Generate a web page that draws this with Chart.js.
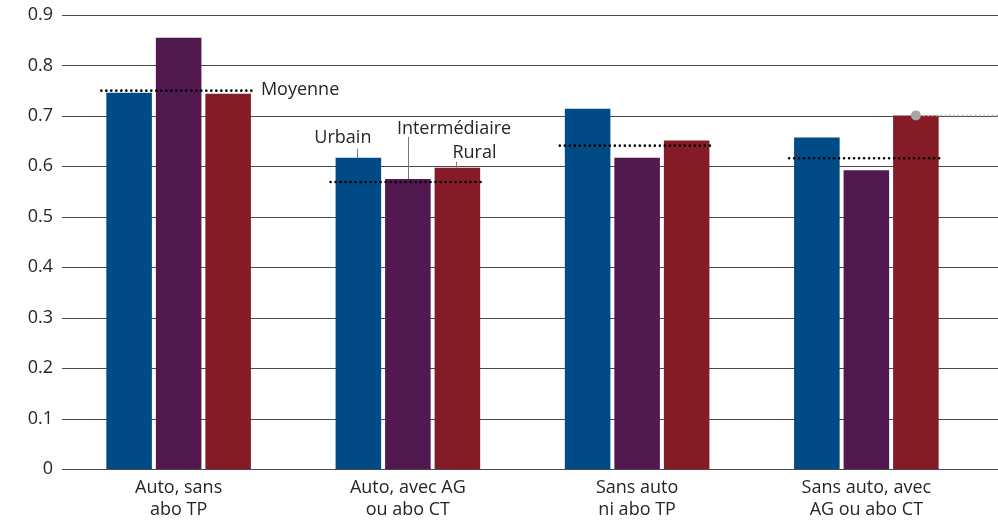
<!DOCTYPE html>
<html lang="fr">
<head>
<meta charset="utf-8">
<title>Moyenne par type de commune</title>
<script src="https://cdn.jsdelivr.net/npm/chart.js@4/dist/chart.umd.min.js"></script>
<style>
  html, body { margin: 0; padding: 0; background: #fff; }
  #wrap { width: 998px; height: 523px; }
</style>
</head>
<body>
<div id="wrap"><canvas id="chart-communes"></canvas></div>
<script>
// Données
const categories = [
    ['Auto, sans', 'abo TP'],
    ['Auto, avec AG', 'ou abo CT'],
    ['Sans auto', 'ni abo TP'],
    ['Sans auto, avec', 'AG ou abo CT']
];
const urbain        = [0.746, 0.617, 0.714, 0.657];
const intermediaire = [0.855, 0.575, 0.617, 0.592];
const rural         = [0.744, 0.597, 0.651, 0.701];
const moyenne       = [0.750, 0.569, 0.641, 0.616];
const yTicks        = [0, 0.1, 0.2, 0.3, 0.4, 0.5, 0.6, 0.7, 0.8, 0.9];
const yTickLabels   = ['0', '0.1', '0.2', '0.3', '0.4', '0.5', '0.6', '0.7', '0.8', '0.9'];

const FONT = '"Open Sans", "Noto Sans", sans-serif';
const TEXT = '#262626';

// lignes horizontales, moyennes, étiquettes des séries et repère gris
const extras = {
    id: 'extras',
    beforeDatasetsDraw(chart) {
        const { ctx, scales: { y } } = chart;
        ctx.save();
        ctx.strokeStyle = '#4a4a4a';
        ctx.lineWidth = 1;
        yTicks.forEach(v => {
            const py = Math.round(y.getPixelForValue(v)) + 0.5;
            ctx.beginPath();
            ctx.moveTo(chart.chartArea.left - 2, py);
            ctx.lineTo(chart.width, py);
            ctx.stroke();
        });
        ctx.restore();
    },
    afterDatasetsDraw(chart) {
        const { ctx, scales: { y } } = chart;
        const m0 = chart.getDatasetMeta(0).data;
        const m1 = chart.getDatasetMeta(1).data;
        const m2 = chart.getDatasetMeta(2).data;
        ctx.save();

        // moyennes en pointillés
        ctx.strokeStyle = '#000';
        ctx.lineWidth = 2.6;
        ctx.lineCap = 'round';
        ctx.setLineDash([0, 5]);
        let finMoyenne = 0;
        moyenne.forEach((v, i) => {
            const x1 = m0[i].x - m0[i].width / 2 - 5;
            const x2 = m2[i].x + m2[i].width / 2 + 5;
            const py = y.getPixelForValue(v);
            ctx.beginPath();
            ctx.moveTo(x1, py);
            ctx.lineTo(x2, py);
            ctx.stroke();
            if (i === 0) finMoyenne = x2;
        });

        // repère gris sur la dernière barre rurale
        const b = m2[3];
        ctx.strokeStyle = '#bdbdbd';
        ctx.lineWidth = 2;
        ctx.setLineDash([0, 4.3]);
        ctx.beginPath();
        ctx.moveTo(b.x + 8, b.y);
        ctx.lineTo(chart.width, b.y);
        ctx.stroke();
        ctx.setLineDash([]);
        ctx.fillStyle = '#a6a6a6';
        ctx.beginPath();
        ctx.arc(b.x, b.y, 5, 0, Math.PI * 2);
        ctx.fill();

        // traits de rappel
        ctx.strokeStyle = '#777';
        ctx.lineWidth = 1;
        ctx.lineCap = 'butt';
        const trait = (x, yA, yB) => {
            ctx.beginPath();
            ctx.moveTo(Math.round(x) + 0.5, yA);
            ctx.lineTo(Math.round(x) + 0.5, yB);
            ctx.stroke();
        };
        trait(m0[1].x - 1, m0[1].y - 9, m0[1].y);
        trait(m1[1].x, m1[1].y - 42, m1[1].y);
        trait(m2[1].x - 1, m2[1].y - 6, m2[1].y);

        // étiquettes
        ctx.fillStyle = TEXT;
        ctx.font = '18px ' + FONT;
        ctx.textAlign = 'left';
        ctx.textBaseline = 'alphabetic';
        ctx.fillText('Urbain', m0[1].x - 44, m0[1].y - 15);
        ctx.fillText('Intermédiaire', m1[1].x - 11, m1[1].y - 45);
        ctx.fillText('Rural', m2[1].x - 5, m2[1].y - 10);
        ctx.textBaseline = 'middle';
        ctx.fillText('Moyenne', finMoyenne + 5, y.getPixelForValue(moyenne[0]) - 1);

        ctx.restore();
    }
};

const canvas = document.getElementById('chart-communes');
new Chart(canvas, {
    type: 'bar',
    data: {
        labels: categories,
        datasets: [
            { label: 'Urbain', data: urbain, backgroundColor: '#004a85' },
            { label: 'Intermédiaire', data: intermediaire, backgroundColor: '#521950' },
            { label: 'Rural', data: rural, backgroundColor: '#851b27' }
        ]
    },
    options: {
        responsive: true,
        maintainAspectRatio: false,
        animation: false,
        layout: { padding: { top: 15, right: 17, left: 0, bottom: 0 } },
        datasets: { bar: { categoryPercentage: 0.648, barPercentage: 0.92, borderWidth: 0 } },
        plugins: { legend: { display: false }, tooltip: { enabled: false } },
        scales: {
            x: {
                grid: { display: false, drawTicks: false },
                border: { display: false },
                ticks: {
                    color: TEXT,
                    font: { family: FONT, size: 18, lineHeight: 1.2 },
                    padding: 8,
                    maxRotation: 0,
                    autoSkip: false
                },
                afterFit(scale) { scale.height = 54; }
            },
            y: {
                min: 0,
                max: 0.9,
                grid: { display: false, drawTicks: false },
                border: { display: false },
                afterBuildTicks(scale) { scale.ticks = yTicks.map(v => ({ value: v })); },
                ticks: {
                    color: TEXT,
                    font: { family: FONT, size: 18 },
                    padding: 11,
                    callback: (v, i) => yTickLabels[i]
                },
                afterFit(scale) {
                    scale.width = 64;
                    scale.paddingTop = 0;
                    scale.paddingBottom = 0;
                }
            }
        }
    },
    plugins: [extras]
});
</script>
</body>
</html>
